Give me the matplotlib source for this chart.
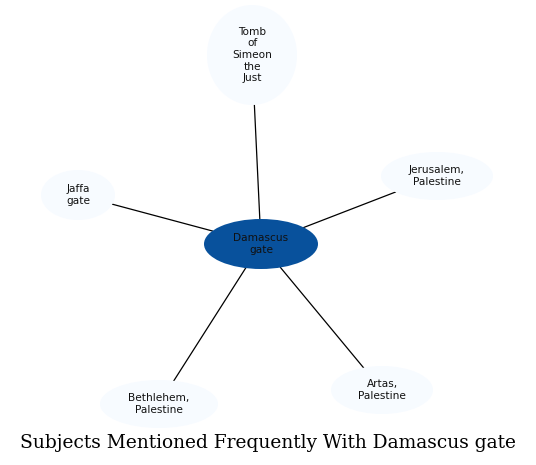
import numpy as np
import matplotlib
matplotlib.use("Agg")
import matplotlib.pyplot as plt
from matplotlib.patches import Ellipse

# Data
center = "Damascus\ngate"
neighbors = ["Tomb\nof\nSimeon\nthe\nJust", "Jerusalem,\nPalestine", "Jaffa\ngate",
             "Bethlehem,\nPalestine", "Artas,\nPalestine"]
title = "Subjects Mentioned Frequently With Damascus gate"

# Layout (pixel coordinates, y downward)
center_pos = (261, 244)
center_size = (114, 50)
neighbor_pos = [(252, 55), (437, 176), (78, 195), (159, 404), (382, 390)]
neighbor_size = [(90, 100), (112, 48), (74, 50), (118, 48), (102, 48)]

center_color = "#08519c"
neighbor_color = "#f7fbff"

W, H = 536, 465
fig = plt.figure(figsize=(W / 100, H / 100), dpi=100)
ax = fig.add_axes([0, 0, 1, 1])
ax.set_xlim(0, W)
ax.set_ylim(H, 0)
ax.axis("off")


def clip(p, q, size):
    dx, dy = q[0] - p[0], q[1] - p[1]
    a, b = size[0] / 2, size[1] / 2
    t = 1.0 / np.sqrt((dx / a) ** 2 + (dy / b) ** 2)
    return p[0] + dx * t, p[1] + dy * t


for pos, size in zip(neighbor_pos, neighbor_size):
    s = clip(center_pos, pos, center_size)
    e = clip(pos, center_pos, size)
    ax.plot([s[0], e[0]], [s[1], e[1]], color="black", lw=0.9, zorder=1)

for name, pos, size in zip(neighbors, neighbor_pos, neighbor_size):
    ax.add_patch(Ellipse(pos, size[0], size[1], facecolor=neighbor_color,
                         edgecolor="none", zorder=2))
    ax.text(pos[0], pos[1], name, ha="center", va="center", fontsize=7.6,
            linespacing=1.2, family="DejaVu Sans", color="#111111", zorder=3)

ax.add_patch(Ellipse(center_pos, center_size[0], center_size[1],
                     facecolor=center_color, edgecolor="none", zorder=2))
ax.text(center_pos[0], center_pos[1], center, ha="center", va="center",
        fontsize=7.6, linespacing=1.2, family="DejaVu Sans", color="#111111",
        zorder=3)

ax.text(W / 2, 443, title, ha="center", va="center", fontsize=13.4,
        family="DejaVu Serif")

fig.savefig("out.png", dpi=100)
